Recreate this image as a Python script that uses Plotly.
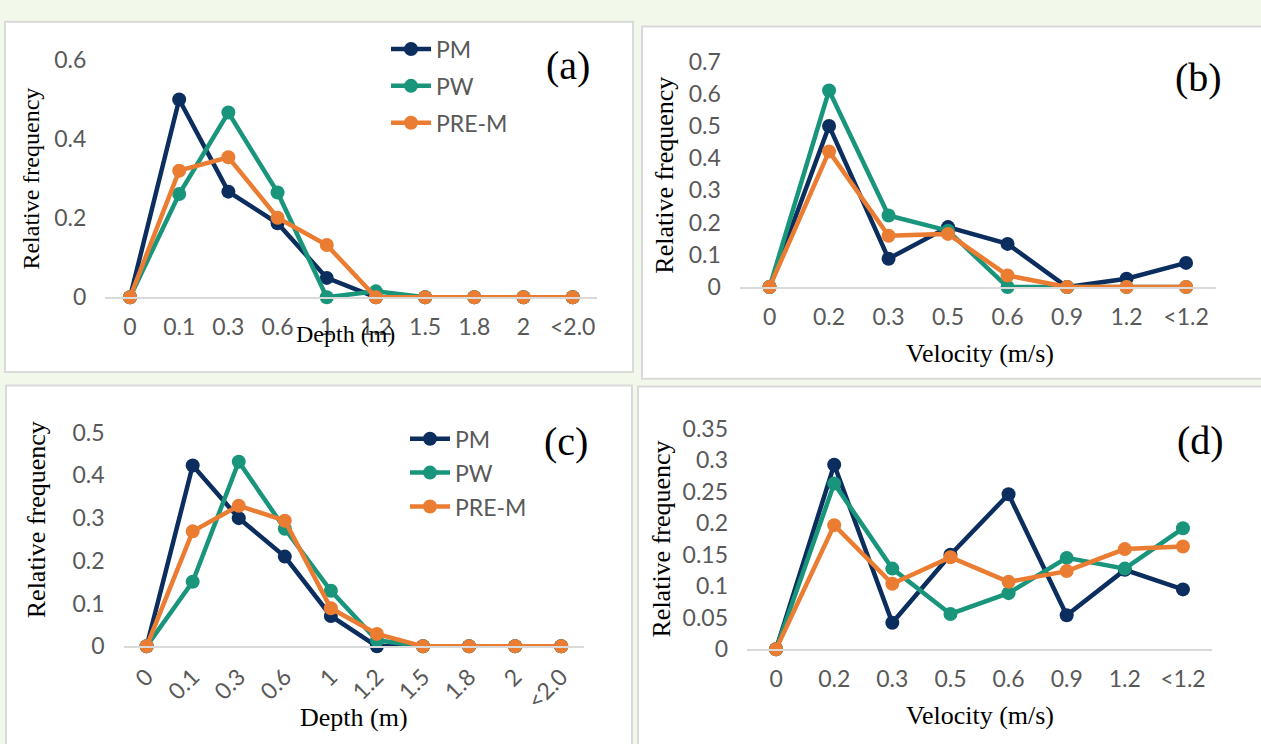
import plotly.graph_objects as go

W, H = 1261, 744

depth_cats = ["0", "0.1", "0.3", "0.6", "1", "1.2", "1.5", "1.8", "2", "<2.0"]
vel_cats = ["0", "0.2", "0.3", "0.5", "0.6", "0.9", "1.2", "<1.2"]

# Panel (a) depth
a_pm = [0, 0.50, 0.267, 0.187, 0.049, 0, 0, 0, 0, 0]
a_pw = [0, 0.261, 0.467, 0.265, 0, 0.015, 0, 0, 0, 0]
a_prem = [0, 0.32, 0.354, 0.201, 0.132, 0, 0, 0, 0, 0]

# Panel (b) velocity
b_pm = [0, 0.50, 0.088, 0.186, 0.134, 0.0, 0.026, 0.075]
b_pw = [0, 0.61, 0.222, 0.175, 0, 0, 0, 0]
b_prem = [0, 0.421, 0.159, 0.165, 0.036, 0, 0, 0]

# Panel (c) depth
c_pm = [0, 0.423, 0.30, 0.21, 0.071, 0, 0, 0, 0, 0]
c_pw = [0, 0.151, 0.432, 0.275, 0.13, 0.014, 0, 0, 0, 0]
c_prem = [0, 0.269, 0.329, 0.294, 0.089, 0.029, 0, 0, 0, 0]

# Panel (d) velocity
d_pm = [0, 0.293, 0.042, 0.15, 0.246, 0.054, 0.126, 0.095]
d_pw = [0, 0.263, 0.128, 0.056, 0.089, 0.145, 0.128, 0.192]
d_prem = [0, 0.197, 0.104, 0.146, 0.107, 0.124, 0.159, 0.163]

series_names = ["PM", "PW", "PRE-M"]
colors = ["#0c2e5e", "#18957a", "#eb7d33"]

yt_a = [0, 0.2, 0.4, 0.6]; ytt_a = ["0", "0.2", "0.4", "0.6"]
yt_b = [0, 0.1, 0.2, 0.3, 0.4, 0.5, 0.6, 0.7]; ytt_b = ["0", "0.1", "0.2", "0.3", "0.4", "0.5", "0.6", "0.7"]
yt_c = [0, 0.1, 0.2, 0.3, 0.4, 0.5]; ytt_c = ["0", "0.1", "0.2", "0.3", "0.4", "0.5"]
yt_d = [0, 0.05, 0.1, 0.15, 0.2, 0.25, 0.3, 0.35]; ytt_d = ["0", "0.05", "0.1", "0.15", "0.2", "0.25", "0.3", "0.35"]

BG = "#f2f8ea"
GRID = "#d9d9d9"
TICKC = "#595959"
TICKFONT = dict(family="Lato, sans-serif", size=23, color=TICKC)
SERIF = "Liberation Serif, Times New Roman, serif"

def fx(px):
    return px / W

def fy(py):
    return 1 - py / H

fig = go.Figure()

panels = [
    ("", depth_cats, [a_pm, a_pw, a_prem], 105.4, 597.3, 46.7, 293.3, 0.6, (yt_a, ytt_a), "legend", 0),
    ("2", vel_cats, [b_pm, b_pw, b_prem], 739.8, 1215.8, 48.3, 282.7, 0.7, (yt_b, ytt_b), None, 0),
    ("3", depth_cats, [c_pm, c_pw, c_prem], 123.6, 584.2, 434.0, 656.0, 0.5, (yt_c, ytt_c), "legend2", -45),
    ("4", vel_cats, [d_pm, d_pw, d_prem], 747.0, 1212.0, 430.0, 659.0, 0.35, (yt_d, ytt_d), None, 0),
]

layout_axes = {}
for suffix, cats, data, x0, x1, yt, yb, ymax, (tv, tt), leg, tang in panels:
    xa = "x" + suffix
    ya = "y" + suffix
    for i, (name, vals) in enumerate(zip(series_names, data)):
        tr = dict(
            x=cats, y=vals, name=name, mode="lines+markers",
            line=dict(color=colors[i], width=4.5),
            marker=dict(color=colors[i], size=14),
            xaxis=xa, yaxis=ya, cliponaxis=False,
            showlegend=leg is not None,
            legendgroup=(leg or "x") + name,
        )
        if leg is not None:
            tr["legend"] = leg
        fig.add_trace(go.Scatter(**tr))
    layout_axes["xaxis" + suffix] = dict(
        domain=[fx(x0), fx(x1)], anchor=ya, type="category",
        categoryorder="array", categoryarray=cats,
        range=[-0.5, len(cats) - 0.5], showgrid=False, zeroline=False,
        showline=True, linecolor=GRID, linewidth=2, ticks="",
        tickfont=TICKFONT, tickangle=tang,
        ticklabelstandoff=8 if tang == 0 else 6,
        fixedrange=True,
    )
    layout_axes["yaxis" + suffix] = dict(
        domain=[fy(yb), fy(yt)], anchor=xa, range=[0, ymax],
        showgrid=False, zeroline=False, showline=False, ticks="",
        tickvals=tv, ticktext=tt, tickfont=TICKFONT,
        ticklabelstandoff=18, fixedrange=True,
    )

fig.update_layout(**layout_axes)

# Panel frames
frames = [(5, 7, 633, 371), (642, 12, 1265, 378), (6, 385, 632, 760), (638, 386, 1265, 760)]
shapes = []
for x0, y0, x1, y1 in frames:
    shapes.append(dict(type="rect", xref="paper", yref="paper",
                       x0=fx(x0), x1=fx(x1), y0=fy(y1), y1=fy(y0),
                       fillcolor="white", line=dict(color=GRID, width=2), layer="below"))

annotations = []
def ann(text, x, y, size, angle=0, color="black", family=SERIF):
    annotations.append(dict(text=text, x=fx(x), y=fy(y), xref="paper", yref="paper",
                            showarrow=False, textangle=angle, xanchor="center", yanchor="middle",
                            font=dict(family=family, size=size, color=color)))

# axis titles
ann("Relative frequency", 31, 170, 24, -90)
ann("Depth (m)", 345, 331, 24)
ann("Relative frequency", 665, 167, 26, -90)
ann("Velocity (m/s)", 980, 352, 26)
ann("Relative frequency", 36, 525, 26, -90)
ann("Depth (m)", 354, 730, 26)
ann("Relative frequency", 661, 545, 26, -90)
ann("Velocity (m/s)", 980, 728, 26)
# panel letters
ann("(a)", 568, 52, 40)
ann("(b)", 1198, 65, 40)
ann("(c)", 566, 443, 40)
ann("(d)", 1200, 442, 40)

legfont = dict(family="Lato, sans-serif", size=23, color=TICKC)
fig.update_layout(
    width=W, height=H, margin=dict(l=0, r=0, t=0, b=0),
    paper_bgcolor=BG, plot_bgcolor="rgba(0,0,0,0)",
    shapes=shapes, annotations=annotations,
    legend=dict(x=fx(386), y=fy(13), xanchor="left", yanchor="top",
                bgcolor="rgba(0,0,0,0)", font=legfont, tracegroupgap=4, itemwidth=40),
    legend2=dict(x=fx(405), y=fy(418), xanchor="left", yanchor="top",
                 bgcolor="rgba(0,0,0,0)", font=legfont, tracegroupgap=1, itemwidth=40),
    showlegend=True,
)

fig.write_html("out.html")
